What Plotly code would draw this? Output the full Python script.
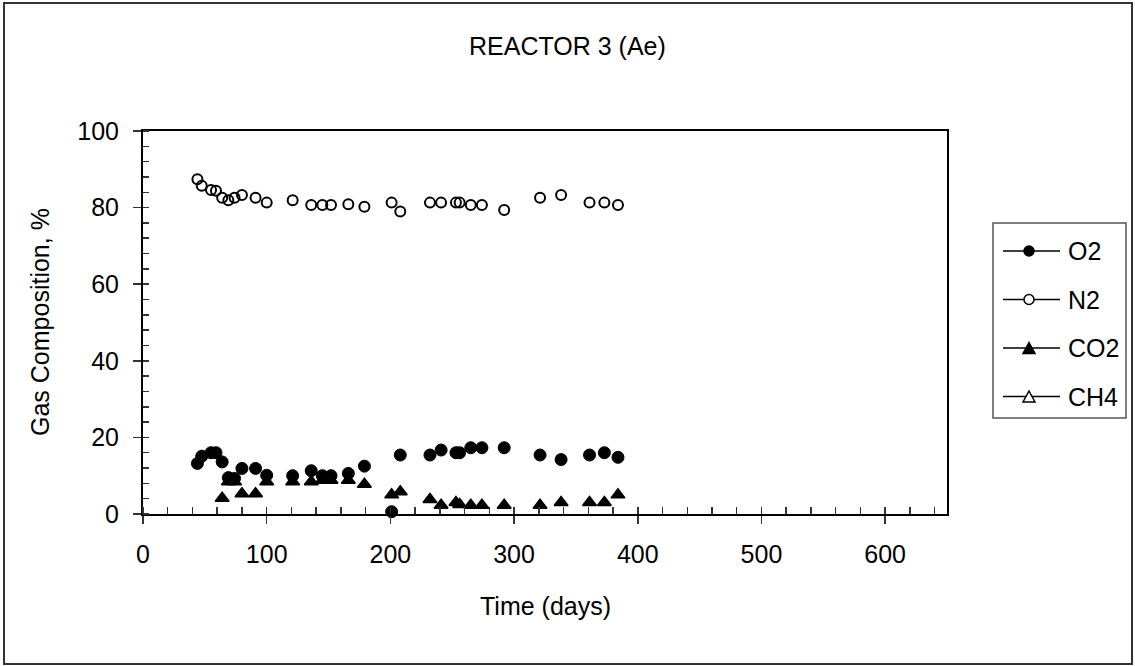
import plotly.graph_objects as go

# ---- data ----
days = [44, 47.5, 55, 59, 64, 69, 74, 80, 91, 100, 121, 136, 145, 152, 166, 179,
        201, 208, 232, 241, 253, 256, 265, 274, 292, 321, 338, 361, 373, 384]
o2 = [13.2, 15.1, 16.0, 16.0, 13.6, 9.5, 9.3, 11.9, 11.9, 10.1, 10.0, 11.3, 10.0, 10.0, 10.6, 12.5,
      0.6, 15.4, 15.4, 16.7, 16.0, 16.0, 17.3, 17.3, 17.3, 15.4, 14.2, 15.4, 16.0, 14.8]
n2 = [87.4, 85.7, 84.6, 84.4, 82.6, 81.9, 82.6, 83.3, 82.6, 81.3, 81.9, 80.7, 80.7, 80.7, 80.9, 80.2,
      81.3, 79.0, 81.3, 81.3, 81.3, 81.3, 80.7, 80.7, 79.4, 82.6, 83.3, 81.3, 81.3, 80.7]
co2 = [None, None, None, None, 4.1, 8.4, 8.4, 5.3, 5.3, 8.4, 8.4, 8.4, 8.8, 8.8, 8.8, 7.8,
       5.0, 5.8, 3.8, 2.3, 3.0, 2.5, 2.3, 2.3, 2.3, 2.3, 3.0, 3.0, 3.0, 5.0]
ch4_days = []
ch4 = []

series_names = ["O2", "N2", "CO2", "CH4"]
x_ticks = [0, 100, 200, 300, 400, 500, 600]
y_ticks = [0, 20, 40, 60, 80, 100]

W, H = 1135, 666
L, R, T, B = 143, 947, 131, 514  # plot area in pixels
FONT = "Arial, Liberation Sans, sans-serif"


def px(x):
    return (x - L) / (R - L)


def py(y):
    return (B - y) / (B - T)


fig = go.Figure()

marker_styles = {
    "O2": dict(symbol="circle", size=12, color="black", line=dict(color="black", width=1)),
    "N2": dict(symbol="circle-open", size=10, color="black", line=dict(color="black", width=2)),
    "CO2": dict(symbol="triangle-up", size=12, color="black", line=dict(color="black", width=1.5)),
    "CH4": dict(symbol="triangle-up-open", size=12, color="black", line=dict(color="black", width=1.5)),
}
data = {"O2": (days, o2), "N2": (days, n2), "CO2": (days, co2), "CH4": (ch4_days, ch4)}

for name in series_names:
    xs, ys = data[name]
    fig.add_trace(go.Scatter(x=xs, y=ys, mode="markers", name=name, showlegend=False,
                             marker=marker_styles[name], cliponaxis=False))

axis_common = dict(
    showgrid=False, zeroline=False, showline=True, linecolor="black", linewidth=2,
    mirror=True, ticks="outside", ticklen=8, tickwidth=1.5, tickcolor="#333",
    tickfont=dict(family=FONT, size=25, color="black"),
)
fig.update_xaxes(range=[0, 650], tickvals=x_ticks, ticklabelstandoff=9,
                 minor=dict(dtick=20, ticks="inside", ticklen=7, tickcolor="#333", tickwidth=1.5),
                 **axis_common)
fig.update_yaxes(range=[0, 100], tickvals=y_ticks, ticklabelstandoff=9,
                 minor=dict(dtick=4, ticks="inside", ticklen=6, tickcolor="#333", tickwidth=1.5),
                 **axis_common)

# ---- hand-drawn legend (longer sample lines, like the original) ----
shapes = [dict(type="rect", xref="paper", yref="paper",
               x0=px(4), x1=px(1132), y0=py(664), y1=py(3),
               line=dict(color="#333", width=2), layer="below"),
          dict(type="rect", xref="paper", yref="paper",
               x0=px(993), x1=px(1126), y0=py(418), y1=py(223),
               line=dict(color="#555", width=1.5), fillcolor="white")]
annotations = []
lx0, lx1, mx, tx = 1003, 1060, 1029, 1066
for i, name in enumerate(series_names):
    yc = 251 + i * 48.5
    shapes.append(dict(type="line", xref="paper", yref="paper",
                       x0=px(lx0), x1=px(lx1), y0=py(yc), y1=py(yc),
                       line=dict(color="black", width=1.5)))
    sym = marker_styles[name]["symbol"]
    fill = "white" if sym.endswith("open") else "black"
    if sym.startswith("circle"):
        r = 5
        shapes.append(dict(type="circle", xref="paper", yref="paper",
                           x0=px(mx - r), x1=px(mx + r), y0=py(yc + r), y1=py(yc - r),
                           fillcolor=fill, line=dict(color="black", width=1.5)))
    else:
        hw, ht = 6, 11
        path = (f"M {px(mx - hw)} {py(yc + ht / 2)} L {px(mx + hw)} {py(yc + ht / 2)} "
                f"L {px(mx)} {py(yc - ht / 2)} Z")
        shapes.append(dict(type="path", xref="paper", yref="paper", path=path,
                           fillcolor=fill, line=dict(color="black", width=1.5)))
    annotations.append(dict(text=name, x=px(tx), y=py(yc), xref="paper", yref="paper",
                            xanchor="left", yanchor="middle", showarrow=False,
                            font=dict(family=FONT, size=25, color="black")))

annotations += [
    dict(text="REACTOR 3 (Ae)", x=px(567), y=py(46), xref="paper", yref="paper",
         xanchor="center", yanchor="middle", showarrow=False,
         font=dict(family=FONT, size=25, color="black")),
    dict(text="Gas Composition, %", x=px(40), y=py(322), xref="paper", yref="paper",
         xanchor="center", yanchor="middle", showarrow=False, textangle=-90,
         font=dict(family=FONT, size=25, color="black")),
    dict(text="Time (days)", x=px(545), y=py(606), xref="paper", yref="paper",
         xanchor="center", yanchor="middle", showarrow=False,
         font=dict(family=FONT, size=25, color="black")),
]

fig.update_layout(
    width=W, height=H,
    margin=dict(l=L, r=W - R, t=T, b=H - B, pad=0),
    paper_bgcolor="white", plot_bgcolor="white",
    font=dict(family=FONT, size=25, color="black"),
    showlegend=False, hovermode=False,
    shapes=shapes, annotations=annotations,
)

# remove the default page margin so the figure sits at the window origin
fig.write_html("out.html",
               config={"displayModeBar": False, "staticPlot": True},
               post_script="document.body.style.margin='0';document.body.style.overflow='hidden';")
